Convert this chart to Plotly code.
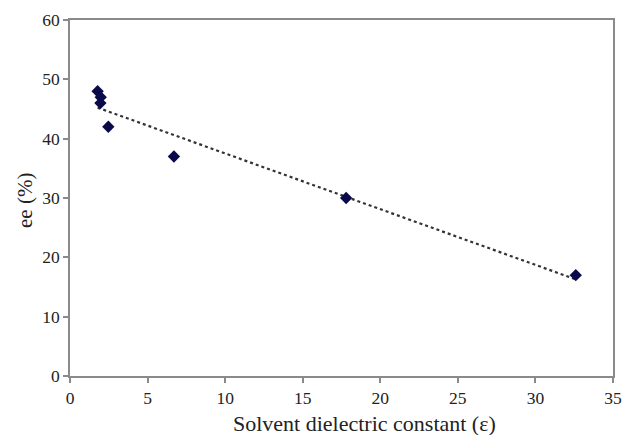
import numpy as np
import plotly.graph_objects as go

# Data
dielectric = [1.78, 1.98, 1.96, 2.47, 6.7, 17.8, 32.6]
ee = [48, 47, 46, 42, 37, 30, 17]

x_ticks = [0, 5, 10, 15, 20, 25, 30, 35]
y_ticks = [0, 10, 20, 30, 40, 50, 60]

x_title = "Solvent dielectric constant (ε)"
y_title = "ee (%)"

# Linear trendline computed from the data
slope, intercept = np.polyfit(dielectric, ee, 1)
x_fit = np.array([min(dielectric), max(dielectric)])
y_fit = slope * x_fit + intercept

SERIF = "Liberation Serif, Times New Roman, serif"

fig = go.Figure()
fig.add_trace(go.Scatter(
    x=x_fit, y=y_fit, mode="lines",
    line=dict(color="#333333", width=2.2, dash="dot"),
    showlegend=False, hoverinfo="skip"))
fig.add_trace(go.Scatter(
    x=dielectric, y=ee, mode="markers",
    marker=dict(symbol="diamond", size=9.5, color="#0a0a4a"),
    showlegend=False))

axis_common = dict(
    showline=True, linecolor="#8a8a8a", linewidth=1.5, mirror=True,
    ticks="outside", ticklen=5, tickcolor="#8a8a8a", tickwidth=1.5,
    showgrid=False, zeroline=False, automargin=False,
    tickfont=dict(family=SERIF, size=17.5, color="#222"),
)

fig.update_layout(
    width=623, height=435,
    margin=dict(l=70, r=10, t=20, b=59),
    paper_bgcolor="white", plot_bgcolor="white",
    xaxis=dict(range=[0, 35], tickvals=x_ticks, **axis_common),
    yaxis=dict(range=[0, 60], tickvals=y_ticks, **axis_common),
    annotations=[
        dict(text=x_title, xref="paper", yref="paper", x=0.5, y=0,
             xanchor="center", yanchor="middle", xshift=23, yshift=-47,
             showarrow=False, font=dict(family=SERIF, size=22, color="#222")),
        dict(text=y_title, xref="paper", yref="paper", x=0, y=0.5,
             xanchor="center", yanchor="middle", xshift=-45, yshift=-3,
             textangle=-90, showarrow=False,
             font=dict(family=SERIF, size=21, color="#222")),
    ],
)

fig.write_html("out.html", config={"displayModeBar": False},
               post_script="document.body.style.margin='0px';")
